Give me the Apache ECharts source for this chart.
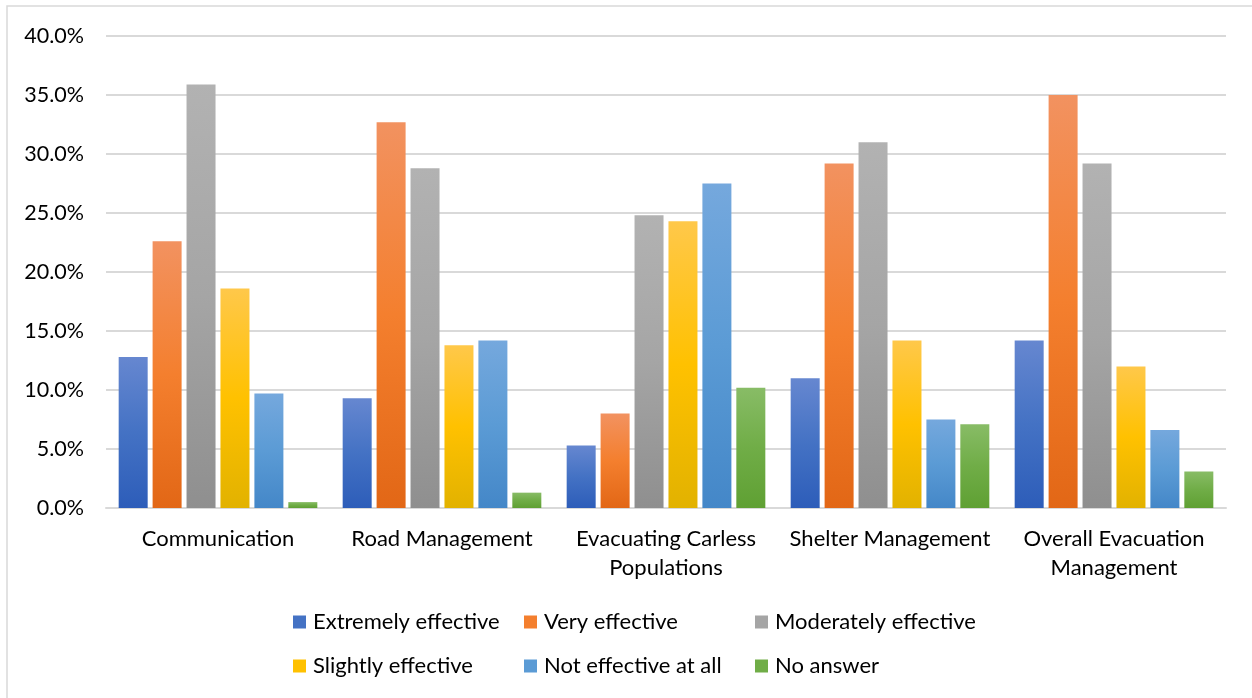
<!DOCTYPE html>
<html>
<head>
<meta charset="utf-8">
<script src="https://cdn.jsdelivr.net/npm/echarts@6/dist/echarts.min.js"></script>
<style>
  html, body { margin: 0; padding: 0; background: #fff; }
  #chart { width: 1252px; height: 698px; }
</style>
</head>
<body>
<div id="chart"></div>
<script>
// Survey: perceived effectiveness by evacuation area (share of respondents, %)
const categories = [
  'Communication',
  'Road Management',
  'Evacuating Carless\nPopulations',
  'Shelter Management',
  'Overall Evacuation\nManagement'
];
const seriesNames = [
  'Extremely effective',
  'Very effective',
  'Moderately effective',
  'Slightly effective',
  'Not effective at all',
  'No answer'
];
const extremelyEffective = [12.8, 9.3, 5.3, 11.0, 14.2];
const veryEffective      = [22.6, 32.7, 8.0, 29.2, 35.0];
const moderatelyEffective = [35.9, 28.8, 24.8, 31.0, 29.2];
const slightlyEffective  = [18.6, 13.8, 24.3, 14.2, 12.0];
const notEffectiveAtAll  = [9.7, 14.2, 27.5, 7.5, 6.6];
const noAnswer           = [0.5, 1.3, 10.2, 7.1, 3.1];
const yTicks = [0, 5, 10, 15, 20, 25, 30, 35, 40];

const values = [extremelyEffective, veryEffective, moderatelyEffective,
                slightlyEffective, notEffectiveAtAll, noAnswer];

// light top -> base -> dark bottom
const palettes = [
  ['#6687D0', '#4472C4', '#2D5DB9'],
  ['#F29260', '#F47F2E', '#E26716'],
  ['#B2B2B2', '#A5A5A5', '#8F8F8F'],
  ['#FFC84A', '#FFC100', '#E2B200'],
  ['#75A8DD', '#5B9BD5', '#4487C8'],
  ['#88BC66', '#70AD47', '#5FA033']
];

function grad(p) {
  return new echarts.graphic.LinearGradient(0, 0, 0, 1, [
    { offset: 0, color: p[0] },
    { offset: 0.5, color: p[1] },
    { offset: 1, color: p[2] }
  ]);
}

const FONT = 'Lato, "Open Sans", sans-serif';

const series = seriesNames.map((name, i) => ({
  name: name,
  type: 'bar',
  data: values[i],
  barWidth: 29,
  barGap: '17%',
  itemStyle: { color: grad(palettes[i]) }
}));

// legend laid out as a 3 x 2 table
const legendCols = [293, 524, 755];
const legendRows = [611, 655];
const legends = seriesNames.map((name, i) => ({
  left: legendCols[i % 3],
  top: legendRows[Math.floor(i / 3)],
  padding: 0,
  data: [{ name: name, icon: 'rect', itemStyle: { color: palettes[i][1] } }],
  itemWidth: 13,
  itemHeight: 13,
  itemGap: 0,
  textStyle: { fontFamily: FONT, fontSize: 22, color: '#000', padding: [0, 0, 0, 2] },
  selectedMode: false
}));

const chart = echarts.init(document.getElementById('chart'), null, { renderer: 'canvas' });
chart.setOption({
  animation: false,
  backgroundColor: '#fff',
  graphic: [{
    type: 'rect',
    shape: { x: 7, y: 6, width: 1300, height: 800 },
    style: { fill: 'none', stroke: '#D9D9D9', lineWidth: 1.5 },
    silent: true
  }],
  legend: legends,
  grid: { left: 106, right: 26, top: 36, bottom: 190, containLabel: false },
  xAxis: {
    type: 'category',
    data: categories,
    axisLine: { show: true, lineStyle: { color: '#D9D9D9', width: 2 } },
    axisTick: { show: false },
    axisLabel: {
      fontFamily: FONT, fontSize: 22, color: '#000',
      margin: 16, lineHeight: 29, interval: 0
    }
  },
  yAxis: {
    type: 'value',
    min: 0,
    max: 40,
    interval: 5,
    axisLine: { show: false },
    axisTick: { show: false },
    splitLine: { lineStyle: { color: '#D9D9D9', width: 2 } },
    axisLabel: {
      fontFamily: FONT, fontSize: 21.5, color: '#000', margin: 22,
      formatter: v => yTicks.includes(v) ? v.toFixed(1) + '%' : ''
    }
  },
  series: series
});
</script>
</body>
</html>
